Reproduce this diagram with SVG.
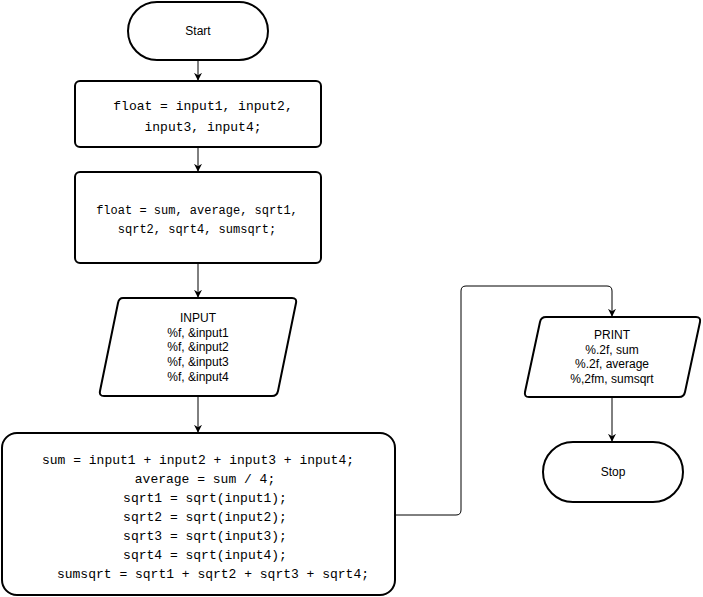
<svg xmlns="http://www.w3.org/2000/svg" width="703" height="597" viewBox="0 0 703 597">
  <defs>
    <marker id="arrow" viewBox="0 0 10 10" refX="9" refY="5" markerWidth="8" markerHeight="8" markerUnits="userSpaceOnUse" orient="auto">
      <path d="M0,0 L10,5 L0,10 L3,5 Z" fill="#000"/>
    </marker>
    <style>
      .shape { fill: #fff; stroke: #000; stroke-width: 2; stroke-linejoin: round; }
      .edge { fill: none; stroke: #000; stroke-width: 1; marker-end: url(#arrow); }
      .sans { font-family: "Liberation Sans", Arial, sans-serif; font-size: 12px; fill: #000; text-anchor: middle; }
      .mono { font-family: "Liberation Mono", "Courier New", monospace; font-size: 13px; fill: #000; text-anchor: middle; }
      .mono-sm { font-size: 12px; }
    </style>
  </defs>
  <rect width="703" height="597" fill="#fff"/>

  <g id="connectors">
    <line class="edge" x1="198" y1="61" x2="198" y2="80"/>
    <line class="edge" x1="198" y1="148" x2="198" y2="171"/>
    <line class="edge" x1="198" y1="264" x2="198" y2="297"/>
    <line class="edge" x1="198" y1="396" x2="198" y2="432"/>
    <path class="edge" d="M396,515 L456,515 Q461,515 461,510 L461,291 Q461,286 466,286 L607,286 Q612,286 612,291 L612,316"/>
    <line class="edge" x1="612" y1="397" x2="612" y2="441"/>
  </g>

  <g id="start">
    <rect class="shape" x="128" y="2" width="140" height="58" rx="29" ry="29"/>
    <text class="sans" x="198" y="35">Start</text>
  </g>

  <g id="declare-inputs">
    <rect class="shape" x="75" y="81" width="246" height="66" rx="5"/>
    <text class="mono" x="203" y="110">float = input1, input2,</text>
    <text class="mono" x="203" y="131">input3, input4;</text>
  </g>

  <g id="declare-results">
    <rect class="shape" x="75" y="172" width="246" height="91" rx="5"/>
    <text class="mono mono-sm" x="197" y="214">float = sum, average, sqrt1,</text>
    <text class="mono mono-sm" x="197" y="233">sqrt2, sqrt4, sumsqrt;</text>
  </g>

  <g id="input">
    <path class="shape" d="M123,298 L292,298 Q297,298 296,303 L278,391 Q277,396 272,396 L104,396 Q99,396 100,391 L118,303 Q119,298 123,298 Z"/>
    <text class="sans" x="198" y="322">INPUT</text>
    <text class="sans" x="198" y="337">%f, &amp;input1</text>
    <text class="sans" x="198" y="351">%f, &amp;input2</text>
    <text class="sans" x="198" y="366">%f, &amp;input3</text>
    <text class="sans" x="198" y="381">%f, &amp;input4</text>
  </g>

  <g id="compute">
    <rect class="shape" x="2" y="433" width="393" height="162" rx="15"/>
    <text class="mono" x="198" y="464">sum = input1 + input2 + input3 + input4;</text>
    <text class="mono" x="205" y="483">average = sum / 4;</text>
    <text class="mono" x="205" y="502">sqrt1 = sqrt(input1);</text>
    <text class="mono" x="205" y="521">sqrt2 = sqrt(input2);</text>
    <text class="mono" x="205" y="540">sqrt3 = sqrt(input3);</text>
    <text class="mono" x="205" y="559">sqrt4 = sqrt(input4);</text>
    <text class="mono" x="213" y="578">sumsqrt = sqrt1 + sqrt2 + sqrt3 + sqrt4;</text>
  </g>

  <g id="print">
    <path class="shape" d="M546,317 L696,317 Q701,317 700,322 L685,392 Q684,397 679,397 L529,397 Q524,397 525,392 L540,322 Q541,317 546,317 Z"/>
    <text class="sans" x="612" y="339">PRINT</text>
    <text class="sans" x="612" y="354">%.2f, sum</text>
    <text class="sans" x="612" y="368">%.2f, average</text>
    <text class="sans" x="612" y="383">%,2fm, sumsqrt</text>
  </g>

  <g id="stop">
    <rect class="shape" x="543" y="442" width="140" height="60" rx="30" ry="30"/>
    <text class="sans" x="613" y="476">Stop</text>
  </g>
</svg>
